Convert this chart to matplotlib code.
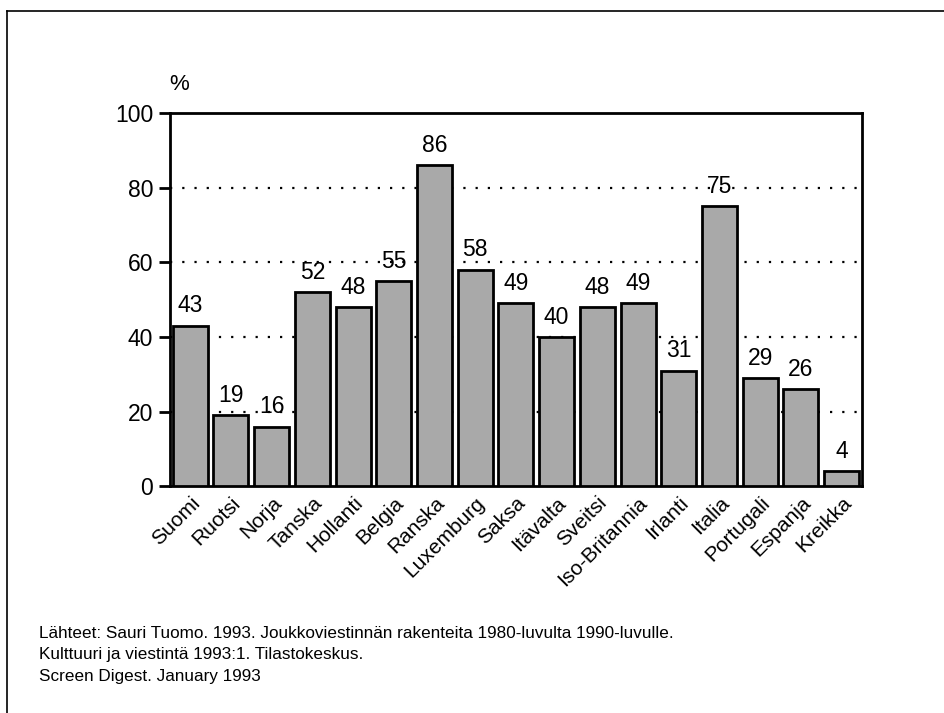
import matplotlib.pyplot as plt
from matplotlib.lines import Line2D

# maat ja osuudet (%)
maat = ['Suomi', 'Ruotsi', 'Norja', 'Tanska', 'Hollanti', 'Belgia', 'Ranska',
        'Luxemburg', 'Saksa', 'Itävalta', 'Sveitsi', 'Iso-Britannia', 'Irlanti',
        'Italia', 'Portugali', 'Espanja', 'Kreikka']
osuudet = [43, 19, 16, 52, 48, 55, 86, 58, 49, 40, 48, 49, 31, 75, 29, 26, 4]
y_ticks = [0, 20, 40, 60, 80, 100]
lahteet = ['Lähteet: Sauri Tuomo. 1993. Joukkoviestinnän rakenteita 1980-luvulta 1990-luvulle.',
           'Kulttuuri ja viestintä 1993:1. Tilastokeskus.',
           'Screen Digest. January 1993']

plt.rcParams['font.family'] = ['Liberation Sans', 'DejaVu Sans']

fig = plt.figure(figsize=(9.44, 7.13), dpi=100)
ax = fig.add_axes([0.180, 0.318, 0.733, 0.5235])

x = list(range(len(maat)))
ax.bar(x, osuudet, width=0.86, color='#a9a9a9', edgecolor='black', linewidth=2, zorder=3)

for xi, v in zip(x, osuudet):
    ax.annotate(str(v), (xi, v), xytext=(0, 6), textcoords='offset points',
                ha='center', va='bottom', fontsize=16.5, zorder=4)

# pisteviivat ruudukkona
for y in y_ticks[1:-1]:
    ax.axhline(y, color='black', linestyle=(0, (1, 4.5)), linewidth=1.6, zorder=1)

ax.set_xlim(-0.5, len(maat) - 0.5)
ax.set_ylim(0, 100)
ax.set_yticks(y_ticks)
ax.set_yticklabels([str(t) for t in y_ticks], fontsize=16.5)
ax.set_xticks(x)
ax.set_xticklabels(maat, rotation=45, ha='right', rotation_mode='anchor', fontsize=15)
ax.tick_params(axis='x', length=0, pad=5)
ax.tick_params(axis='y', length=8, width=2, direction='out', pad=4)
for s in ax.spines.values():
    s.set_linewidth(2)

fig.text(179 / 944, 1 - 84 / 713, '%', fontsize=16, ha='center', va='center')

for i, rivi in enumerate(lahteet):
    fig.text(39 / 944, 1 - (633 + i * 22) / 713, rivi, fontsize=12.3, ha='left', va='center')

# kehys kuvan ympärillä
fig.add_artist(Line2D([7 / 944, 7 / 944], [0, 1 - 11 / 713], color='black', linewidth=1.2))
fig.add_artist(Line2D([7 / 944, 1], [1 - 11 / 713, 1 - 11 / 713], color='black', linewidth=1.2))

fig.savefig('out.png', dpi=100)
